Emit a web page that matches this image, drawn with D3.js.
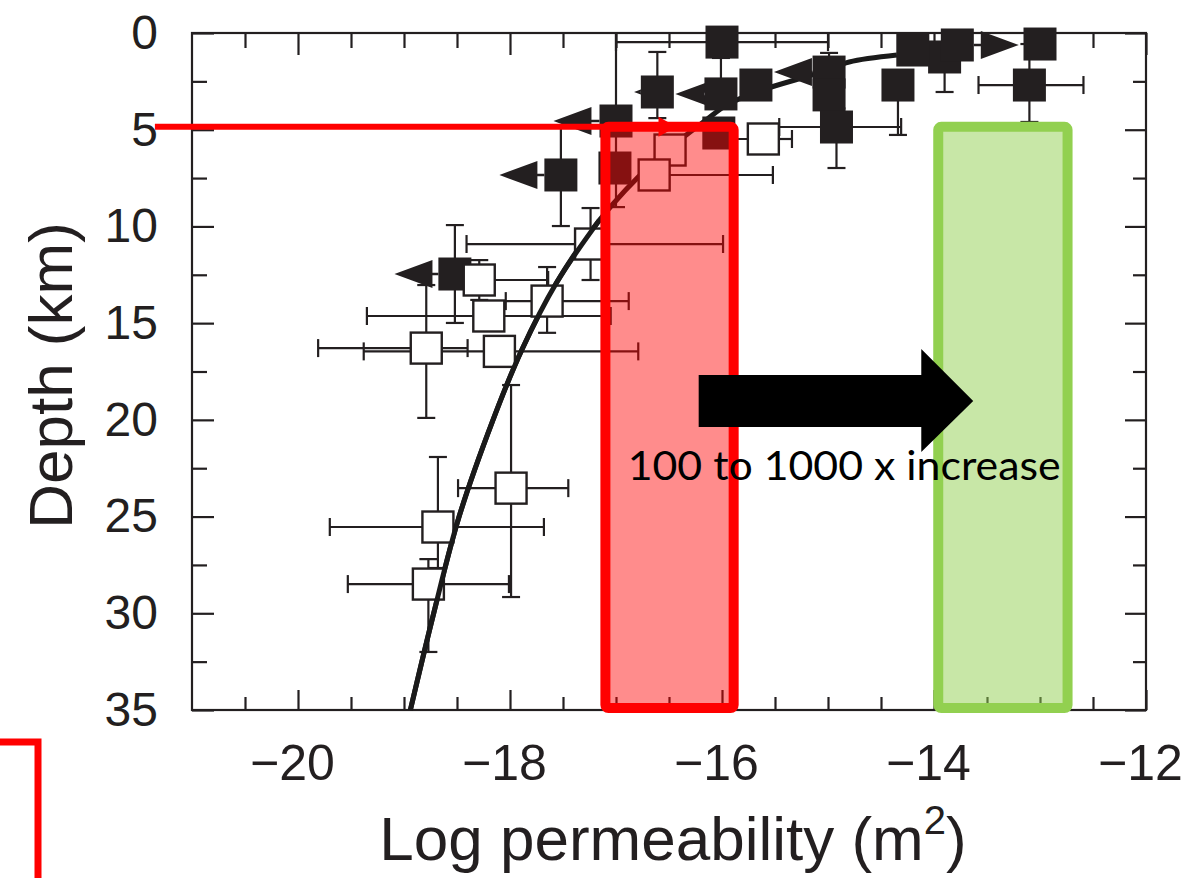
<!DOCTYPE html>
<html>
<head>
<meta charset="utf-8">
<script src="https://cdn.jsdelivr.net/npm/d3@7"></script>
<style>
  body { margin: 0; background: #fff; }
  svg { display: block; }
</style>
</head>
<body>
<div id="chart"></div>
<script>
// page size and plot frame
var W = 1186, H = 878;
var plot = {left: 192, right: 1146, top: 33, bottom: 710};

// axis ticks
var xMajor = [-20, -18, -16, -14, -12];
var yMajor = [0, 5, 10, 15, 20, 25, 30, 35];

// filled squares: [log k, depth, k low, k high, depth top, depth bottom, bound-arrow tip]
var filledPts = [
  [-16.0, 0.47, -17.0, -15.0, null, null, null],
  [-16.61, 3.05, null, null, 0.98, 4.4, -16.83],
  [-16.01, 3.15, null, null, 1.29, null, -16.44],
  [-15.68, 2.69, null, null, null, null, null],
  [-14.99, 2.02, null, null, 1.03, null, -15.51],
  [-14.99, 3.2, null, null, null, null, null],
  [-14.92, 4.86, -15.46, -14.31, 3.9, 6.98, null],
  [-14.34, 2.69, null, null, null, 5.27, null],
  [-13.9, 1.24, null, null, null, 3.05, null],
  [-14.2, 0.88, null, null, null, null, null],
  [-13.78, 0.62, null, null, null, null, -13.2],
  [-13.0, 0.57, null, null, null, null, null],
  [-13.1, 2.69, -13.58, -12.59, 0.57, 4.6, null],
  [-17.0, 4.55, null, null, 0.0, 9.0, -17.59],
  [-17.52, 7.34, null, null, 4.9, 9.98, -18.10],
  [-17.01, 6.98, null, null, null, null, null],
  [-16.03, 5.17, null, null, null, null, null],
  [-18.52, 12.46, null, null, 9.93, 14.99, -19.09]
];

// open squares: [log k, depth, k low, k high, depth top, depth bottom]
var openPts = [
  [-15.61, 5.48, -16.0, -15.34, null, null],
  [-17.24, 10.91, -18.41, -15.99, 9.05, 12.77],
  [-18.29, 12.77, -18.65, -17.64, 11.74, 13.8],
  [-17.65, 13.86, -18.04, -16.88, 12.1, 15.5],
  [-18.2, 14.63, -19.35, -17.05, null, null],
  [-18.79, 16.29, -19.81, -18.4, 13.03, 19.9],
  [-18.1, 16.46, -19.38, -16.79, null, null],
  [-17.99, 23.53, -18.49, -17.45, 18.2, 29.16],
  [-18.68, 25.54, -19.7, -17.68, 21.92, 27.66],
  [-18.77, 28.49, -19.53, -18.01, 27.2, 32.0],
  [-16.49, 6.05, null, null, null, null],
  [-16.64, 7.34, null, -15.52, null, null]
];

// permeability-depth curve
var curveDepth = [35, 30, 25, 20, 16.4, 12.9, 9.7, 6.6, 4.5, 3.7, 3, 2, 1.5, 1.14];
var curveK = [-18.94, -18.72, -18.48, -18.16, -17.89, -17.56, -17.16, -16.63, -16.15, -15.95, -15.65, -15.05, -14.8, -14.35];

// highlight boxes: [k left, k right, depth top, depth bottom]
var redBox = [-17.1, -15.89, 4.85, 34.9];
var greenBox = [-13.96, -12.74, 4.85, 34.9];

var svg = d3.select("#chart")
  .append("svg")
    .attr("width", W)
    .attr("height", H);

var x = d3.scaleLinear().domain([-21, -12]).range([plot.left, plot.right]);
var y = d3.scaleLinear().domain([0, 35]).range([plot.top, plot.bottom]);

var ink = "#231f20";
var font = "'Liberation Sans', Arial, Helvetica, sans-serif";

// ticks (inward, both sides)
function ticksEvery(a, b, step) {
  var t = [];
  for (var v = a; v <= b + 1e-9; v += step) t.push(+v.toFixed(2));
  return t;
}
var xMinor = ticksEvery(-20.5, -12.5, 0.5).filter(function(v) { return xMajor.indexOf(v) < 0; });
var yMinor = ticksEvery(2.5, 32.5, 5);

function styleAxis(g) {
  g.select(".domain").remove();
  g.selectAll(".tick line").attr("stroke", ink).attr("stroke-width", 2.2);
}

svg.append("g").attr("transform", "translate(0," + plot.bottom + ")")
  .call(d3.axisBottom(x).tickValues(xMajor).tickSize(-20).tickPadding(34).tickFormat(d3.format("d")))
  .call(styleAxis)
  .call(function(g) {
    g.selectAll("text").attr("font-family", font).attr("font-size", 50).attr("fill", ink).attr("dx", "-0.12em")
      .text(function(d) { return "\u2212" + Math.abs(d); });
  });
svg.append("g").attr("transform", "translate(0," + plot.bottom + ")")
  .call(d3.axisBottom(x).tickValues(xMinor).tickSize(-13).tickFormat(""))
  .call(styleAxis);
svg.append("g").attr("transform", "translate(0," + plot.top + ")")
  .call(d3.axisTop(x).tickValues(xMajor).tickSize(-22).tickFormat(""))
  .call(styleAxis);
svg.append("g").attr("transform", "translate(0," + plot.top + ")")
  .call(d3.axisTop(x).tickValues(xMinor).tickSize(-15).tickFormat(""))
  .call(styleAxis);

svg.append("g").attr("transform", "translate(" + plot.left + ",0)")
  .call(d3.axisLeft(y).tickValues(yMajor).tickSize(-22).tickPadding(34))
  .call(styleAxis)
  .call(function(g) {
    g.selectAll("text").attr("font-family", font).attr("font-size", 48).attr("fill", ink);
  });
svg.append("g").attr("transform", "translate(" + plot.left + ",0)")
  .call(d3.axisLeft(y).tickValues(yMinor).tickSize(-15).tickFormat(""))
  .call(styleAxis);
svg.append("g").attr("transform", "translate(" + plot.right + ",0)")
  .call(d3.axisRight(y).tickValues(yMajor).tickSize(-21).tickFormat(""))
  .call(styleAxis);
svg.append("g").attr("transform", "translate(" + plot.right + ",0)")
  .call(d3.axisRight(y).tickValues(yMinor).tickSize(-13).tickFormat(""))
  .call(styleAxis);

// frame
svg.append("rect")
  .attr("x", plot.left).attr("y", plot.top)
  .attr("width", plot.right - plot.left).attr("height", plot.bottom - plot.top)
  .attr("fill", "none").attr("stroke", ink).attr("stroke-width", 2.2);

// axis titles
var xt = svg.append("text")
  .attr("x", (plot.left + plot.right) / 2 + 4).attr("y", 860)
  .attr("text-anchor", "middle")
  .attr("font-family", font).attr("font-size", 62).attr("fill", ink);
xt.append("tspan").text("Log permeability (m");
xt.append("tspan").attr("font-size", 40).attr("dy", -26).text("2");
xt.append("tspan").attr("dy", 26).text(")");

svg.append("text")
  .attr("transform", "translate(72," + (y(17.5) + 4) + ") rotate(-90)")
  .attr("text-anchor", "middle")
  .attr("font-family", font).attr("font-size", 62).attr("fill", ink)
  .text("Depth (km)");

// error bars
var cap = 9;
function errorBars(pts) {
  var g = svg.append("g").attr("stroke", ink).attr("stroke-width", 2.2).attr("fill", "none");
  pts.forEach(function(p) {
    var cx = x(p[0]), cy = y(p[1]);
    if (p[2] != null) {
      g.append("line").attr("x1", x(p[2])).attr("x2", cx).attr("y1", cy).attr("y2", cy);
      g.append("line").attr("x1", x(p[2])).attr("x2", x(p[2])).attr("y1", cy - cap).attr("y2", cy + cap);
    }
    if (p[3] != null) {
      g.append("line").attr("x1", cx).attr("x2", x(p[3])).attr("y1", cy).attr("y2", cy);
      g.append("line").attr("x1", x(p[3])).attr("x2", x(p[3])).attr("y1", cy - cap).attr("y2", cy + cap);
    }
    if (p[4] != null) {
      g.append("line").attr("x1", cx).attr("x2", cx).attr("y1", y(p[4])).attr("y2", cy);
      if (p[4] > 0) g.append("line").attr("x1", cx - cap).attr("x2", cx + cap).attr("y1", y(p[4])).attr("y2", y(p[4]));
    }
    if (p[5] != null) {
      g.append("line").attr("x1", cx).attr("x2", cx).attr("y1", cy).attr("y2", y(p[5]));
      g.append("line").attr("x1", cx - cap).attr("x2", cx + cap).attr("y1", y(p[5])).attr("y2", y(p[5]));
    }
  });
}
errorBars(filledPts);
errorBars(openPts);

var half = 16.5;

// curve (drawn under the markers near the surface)
var curvePts = curveDepth.map(function(d, i) { return [curveK[i], d]; });
var curveLine = d3.line()
  .x(function(d) { return x(d[0]); })
  .y(function(d) { return y(d[1]); })
  .curve(d3.curveCatmullRom);
svg.append("path")
  .datum(curvePts)
  .attr("fill", "none").attr("stroke", "#1a1a1a").attr("stroke-width", 5)
  .attr("d", curveLine);

// filled squares with bound arrows
var fg = svg.append("g");
fg.selectAll("path.bound")
  .data(filledPts.filter(function(d) { return d[6] != null; }))
  .enter().append("path")
    .attr("class", "bound")
    .attr("fill", ink)
    .attr("d", function(d) {
      var tip = x(d[6]), cy = y(d[1]);
      var dir = d[6] < d[0] ? 1 : -1;
      var base = tip + dir * 38;
      return "M" + tip + "," + cy + "L" + base + "," + (cy - 14) + "L" + base + "," + (cy + 14) + "Z"
        + "M" + base + "," + (cy - 1.2) + "L" + (x(d[0]) - dir * half) + "," + (cy - 1.2)
        + "L" + (x(d[0]) - dir * half) + "," + (cy + 1.2) + "L" + base + "," + (cy + 1.2) + "Z";
    });
fg.selectAll("rect")
  .data(filledPts)
  .enter().append("rect")
    .attr("x", function(d) { return x(d[0]) - half; })
    .attr("y", function(d) { return y(d[1]) - half; })
    .attr("width", 2 * half).attr("height", 2 * half)
    .attr("fill", ink);

// open squares
var og = svg.append("g");
og.selectAll("rect")
  .data(openPts)
  .enter().append("rect")
    .attr("x", function(d) { return x(d[0]) - 15.5; })
    .attr("y", function(d) { return y(d[1]) - 15.5; })
    .attr("width", 31).attr("height", 31)
    .attr("fill", "#fff").attr("stroke", ink).attr("stroke-width", 2.4);

// deeper part of the curve lies over the open squares
svg.append("path")
  .datum(curvePts.filter(function(d) { return d[1] >= 9.7; }))
  .attr("fill", "none").attr("stroke", "#1a1a1a").attr("stroke-width", 5)
  .attr("d", curveLine);

// highlight boxes
function box(b, stroke, fill, op) {
  svg.append("rect")
    .attr("x", x(b[0])).attr("y", y(b[2]))
    .attr("width", x(b[1]) - x(b[0])).attr("height", y(b[3]) - y(b[2]))
    .attr("rx", 3)
    .attr("fill", fill).attr("fill-opacity", op)
    .attr("stroke", stroke).attr("stroke-width", 10);
}
box(redBox, "#ff0000", "#ff0000", 0.45);
box(greenBox, "#92d050", "#92d050", 0.5);

// red pointer at 5 km
var pointer = {depth: 4.85, from: -21.35, to: -16.58, tip: -16.43};
svg.append("line")
  .attr("x1", x(pointer.from)).attr("x2", x(pointer.to))
  .attr("y1", y(pointer.depth)).attr("y2", y(pointer.depth))
  .attr("stroke", "#ff0000").attr("stroke-width", 6);
svg.append("path")
  .attr("fill", "#ff0000")
  .attr("d", "M" + x(pointer.tip) + "," + y(pointer.depth)
    + "L" + (x(pointer.to) - 2) + "," + (y(pointer.depth) - 10)
    + "L" + (x(pointer.to) - 2) + "," + (y(pointer.depth) + 10) + "Z");

// red bracket at bottom left
svg.append("path")
  .attr("d", "M0,742H38V878")
  .attr("fill", "none").attr("stroke", "#ff0000").attr("stroke-width", 7);

// big arrow and caption
var arrow = {k0: -16.22, k1: -14.12, tip: -13.63, dTop: 17.68, dBot: 20.37, hTop: 16.34, hBot: 21.66};
var dMid = (arrow.dTop + arrow.dBot) / 2;
svg.append("path")
  .attr("fill", "#000")
  .attr("d", "M" + x(arrow.k0) + "," + y(arrow.dTop)
    + "L" + x(arrow.k1) + "," + y(arrow.dTop)
    + "L" + x(arrow.k1) + "," + y(arrow.hTop)
    + "L" + x(arrow.tip) + "," + y(dMid)
    + "L" + x(arrow.k1) + "," + y(arrow.hBot)
    + "L" + x(arrow.k1) + "," + y(arrow.dBot)
    + "L" + x(arrow.k0) + "," + y(arrow.dBot) + "Z");

svg.append("text")
  .attr("x", x(-16.89)).attr("y", 480)
  .attr("font-family", "Lato, 'Open Sans', sans-serif").attr("font-size", 40)
  .attr("textLength", 433).attr("lengthAdjust", "spacingAndGlyphs")
  .attr("fill", "#000")
  .text("100 to 1000 x increase");
</script>
</body>
</html>
